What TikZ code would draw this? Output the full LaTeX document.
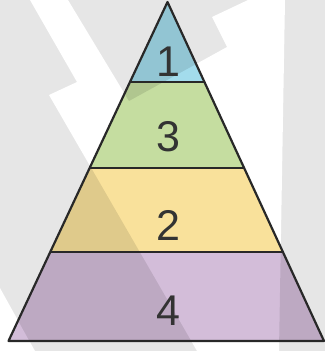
\documentclass[tikz,border=0pt]{standalone}
\usepackage{fontspec}
\setmainfont{Liberation Sans}
\usetikzlibrary{calc}
\definecolor{bggray}{RGB}{230,230,230}
\definecolor{topblue}{RGB}{163,220,236}
\definecolor{midgreen}{RGB}{197,221,160}
\definecolor{lowyellow}{RGB}{249,225,155}
\definecolor{basepurple}{RGB}{211,189,217}
\definecolor{edgegray}{RGB}{40,40,40}

\begin{document}
\begin{tikzpicture}[x=1pt, y=-1pt,
    outline/.style={draw=edgegray, line width=2.2pt, line join=round},
    shade/.style={fill=black, fill opacity=0.1},
    lbl/.style={font=\fontsize{43}{43}\selectfont, text=black!80}
  ]
  \clip (0,0) rectangle (325,351);
  \fill[bggray] (0,0) rectangle (325,351);

  % light bolt behind the pyramid
  \coordinate (b1) at (30,0);
  \coordinate (b2) at (68,0);
  \coordinate (b3) at (129,101);
  \coordinate (b4) at (227,47);
  \coordinate (b5) at (212,17);
  \coordinate (b6) at (248,0);
  \coordinate (b7) at (285,0);
  \coordinate (b8) at (279,351);
  \coordinate (b9) at (197,351);
  \coordinate (b10) at (49,95);
  \coordinate (b11) at (77,82);
  \coordinate (c1) at (0,288);
  \coordinate (c2) at (35,351);
  \coordinate (c3) at (0,351);
  \fill[white] (b1) -- (b2) -- (b3) -- (b4) -- (b5) -- (b6) -- (b7) -- (b8)
    -- (b9) -- (b10) -- (b11) -- cycle;
  \fill[white] (c1) -- (c2) -- (c3) -- cycle;

  \coordinate (apex) at (167.5,2);
  \coordinate (bl) at (8.5,341);
  \coordinate (br) at (324,341);
  \coordinate (l1) at ($(apex)!0.236!(bl)$);
  \coordinate (r1) at ($(apex)!0.236!(br)$);
  \coordinate (l2) at ($(apex)!0.490!(bl)$);
  \coordinate (r2) at ($(apex)!0.490!(br)$);
  \coordinate (l3) at ($(apex)!0.737!(bl)$);
  \coordinate (r3) at ($(apex)!0.737!(br)$);

  \fill[topblue] (apex) -- (l1) -- (r1) -- cycle;
  \fill[midgreen] (l1) -- (l2) -- (r2) -- (r1) -- cycle;
  \fill[lowyellow] (l2) -- (l3) -- (r3) -- (r2) -- cycle;
  \fill[basepurple] (l3) -- (bl) -- (br) -- (r3) -- cycle;

  \begin{scope}
    \clip (apex) -- (bl) -- (br) -- cycle;
    \fill[shade, even odd rule] (0,0) rectangle (325,351)
      (b1) -- (b2) -- (b3) -- (b4) -- (b5) -- (b6) -- (b7) -- (b8)
      -- (b9) -- (b10) -- (b11) -- cycle
      (c1) -- (c2) -- (c3) -- cycle;
  \end{scope}

  \draw[outline] (apex) -- (bl) -- (br) -- cycle;
  \draw[outline] (l1) -- (r1);
  \draw[outline] (l2) -- (r2);
  \draw[outline] (l3) -- (r3);

  \node[lbl] (one) at (168,62) {1};
  \node[lbl] (three) at (168,137) {3};
  \node[lbl] (two) at (168,225) {2};
  \node[lbl] (four) at (168,311) {4};
\end{tikzpicture}
\end{document}
